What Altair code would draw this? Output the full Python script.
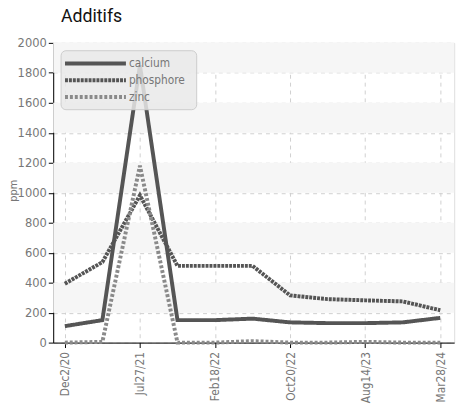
import altair as alt
import pandas as pd

# ---- data ----
x_index = [0, 1, 2, 3, 4, 5, 6, 7, 8, 9, 10]
tick_labels = ["Dec2/20", "Jul27/21", "Feb18/22", "Oct20/22", "Aug14/23", "Mar28/24"]
tick_positions = [0, 2, 4, 6, 8, 10]
calcium = [110, 150, 1850, 150, 150, 160, 135, 130, 130, 135, 165]
phosphore = [393, 537, 983, 512, 512, 512, 315, 290, 282, 275, 216]
zinc = [0, 5, 1180, 0, 0, 10, 0, 0, 5, 0, 0]
series_names = ["calcium", "phosphore", "zinc"]
y_ticks = [0, 200, 400, 600, 800, 1000, 1200, 1400, 1600, 1800, 2000]

rows = []
for name, vals in zip(series_names, [calcium, phosphore, zinc]):
    for xi, v in zip(x_index, vals):
        rows.append({"x": xi, "ppm": v, "serie": name})
df = pd.DataFrame(rows)

bands = pd.DataFrame({"lo": [y_ticks[i] for i in range(1, len(y_ticks) - 1, 2)],
                      "hi": [y_ticks[i + 1] for i in range(1, len(y_ticks) - 1, 2)]})
leg = pd.DataFrame({"serie": series_names})

label_map = "{" + ",".join(f"'{p}':'{l}'" for p, l in zip(tick_positions, tick_labels)) + "}"

FONT = "Liberation Sans Narrow, DejaVu Sans Condensed, Roboto Condensed, Roboto, sans-serif"

xscale = alt.Scale(domain=[-0.31, 10.37], nice=False, zero=False)
yscale = alt.Scale(domain=[0, 2000], nice=False)

color_scale = alt.Scale(domain=series_names, range=["#555555", "#555555", "#8a8a8a"])
dash_scale = alt.Scale(domain=series_names, range=[[1, 0], [3, 1], [3, 2]])
width_scale = alt.Scale(domain=series_names, range=[4, 4, 2.5])

y_axis = alt.Axis(values=y_ticks, format="d", title="ppm", titleFontSize=11, titleColor="#777",
                  titleFont=FONT, titleFontWeight="normal", titleAngle=-90,
                  titleX=-40, titleY=150, titleAlign="center", titleBaseline="middle",
                  labelFontSize=13, labelColor="#777", labelFont=FONT,
                  labelOverlap=False, labelFlush=False,
                  domainColor="#000", tickColor="#000", tickSize=5, labelPadding=2,
                  grid=True, gridDash=[4, 4], gridColor="#cfcfcf")

band_layer = alt.Chart(bands).mark_rect(color="#f6f6f6").encode(
    x=alt.value(0), x2=alt.value(408),
    y=alt.Y("lo:Q", scale=yscale, axis=y_axis),
    y2="hi:Q",
)

lines = alt.Chart(df).mark_line(strokeCap="butt", strokeJoin="miter").encode(
    x=alt.X("x:Q", scale=xscale,
            axis=alt.Axis(values=tick_positions, labelExpr=f"{label_map}[datum.value]",
                          title=None, labelAngle=-90, labelAlign="right", labelBaseline="middle",
                          labelFontSize=12, labelColor="#777", labelFont=FONT,
                          domainColor="#000", tickColor="#000", tickSize=5, labelPadding=4,
                          labelOverlap=False, labelFlush=False,
                          grid=True, gridDash=[4, 4], gridColor="#cfcfcf")),
    y=alt.Y("ppm:Q", scale=yscale, axis=y_axis),
    color=alt.Color("serie:N", scale=color_scale, legend=None),
    strokeDash=alt.StrokeDash("serie:N", scale=dash_scale, legend=None),
    strokeWidth=alt.StrokeWidth("serie:N", scale=width_scale, legend=None),
)

leg_y = alt.Y("serie:N", scale=alt.Scale(type="point", domain=series_names, range=[21, 55], padding=0),
              axis=None)

leg_box = alt.Chart(leg).mark_rect(fill="#e9e9e9", fillOpacity=0.85, stroke="#cccccc",
                                   cornerRadius=5).encode(
    x=alt.value(8), x2=alt.value(146), y=alt.value(8), y2=alt.value(68)
).transform_filter(alt.datum.serie == series_names[0])

leg_lines = alt.Chart(leg).mark_rule(strokeCap="butt").encode(
    x=alt.value(12), x2=alt.value(74), y=leg_y,
    color=alt.Color("serie:N", scale=color_scale, legend=None),
    strokeDash=alt.StrokeDash("serie:N", scale=dash_scale, legend=None),
    strokeWidth=alt.StrokeWidth("serie:N", scale=width_scale, legend=None),
)

leg_text = alt.Chart(leg).mark_text(align="left", baseline="middle", fontSize=12,
                                    color="#777", font=FONT).encode(
    x=alt.value(77), y=leg_y, text="serie:N"
)

legend_layer = alt.layer(leg_box, leg_lines, leg_text)

chart = alt.layer(alt.layer(band_layer, lines), legend_layer).resolve_scale(y="independent").properties(
    width=408, height=305,
    title=alt.TitleParams("Additifs", anchor="start", fontSize=18, fontWeight="normal",
                          font="Roboto, sans-serif", color="#111", dx=8, offset=11, frame="group"),
    padding={"left": 46, "top": 32, "right": 10, "bottom": 60},
    autosize=alt.AutoSizeParams(type="none"),
).configure_view(stroke=None).configure(background="white")

chart.save("out.html", embed_options={"renderer": "svg", "actions": False})
